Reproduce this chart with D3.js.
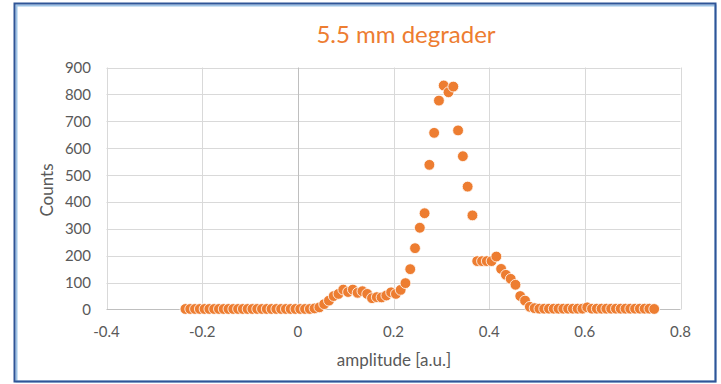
<!DOCTYPE html>
<html>
<head>
<meta charset="utf-8">
<style>
  body { margin: 0; background: #fff; }
  svg text { font-family: Lato, "Open Sans", sans-serif; }
</style>
</head>
<body>
<svg id="chart" width="721" height="384"></svg>
<script src="https://d3js.org/d3.v7.min.js"></script>
<script>
    // amplitude bins, step 0.01 starting at -0.235
    var xStart = -0.235, xStep = 0.01;
    var counts = [
        2, 2, 2, 2, 2, 2, 2, 2, 2, 2,          // -0.235 .. -0.145
        2, 2, 2, 2, 2, 2, 2, 2, 2, 2,          // -0.135 .. -0.045
        2, 2, 2, 2, 2, 2, 2, 4, 8, 20, 33,     // -0.035 .. 0.065
        50, 58, 74, 65, 74, 62, 68, 58, 42, 46, // 0.075 .. 0.165
        45, 52, 64, 58, 73, 98, 150, 228, 304, 358,
        538, 657, 777, 833, 808, 829, 666, 570, 457, 350,
        180, 180, 180, 180, 197, 151, 129, 114, 92, 50,
        33, 10, 5, 3, 3, 3, 3, 3, 3, 3,
        3, 3, 3, 8, 3, 3, 3, 3, 3, 3,
        3, 3, 3, 3, 3, 3, 3, 2
    ];
    var xTicks = [-0.4, -0.2, 0, 0.2, 0.4, 0.6, 0.8];
    var yTicks = [0, 100, 200, 300, 400, 500, 600, 700, 800, 900];

    var points = counts.map(function (c, i) {
        return {x: xStart + i * xStep, y: c};
    });

    var svg = d3.select("#chart");

    // frame
    svg.append("rect").attr("x", 16.5).attr("y", 5.5).attr("width", 699).attr("height", 376)
        .attr("fill", "none").attr("stroke", "#9dc3e6").attr("stroke-width", 2);
    svg.append("rect").attr("x", 14.5).attr("y", 3.5).attr("width", 701).attr("height", 378)
        .attr("fill", "none").attr("stroke", "#2f5597").attr("stroke-width", 2);

    var x = d3.scaleLinear().domain([-0.4, 0.8]).range([106.5, 680.5]);
    var y = d3.scaleLinear().domain([0, 900]).range([309.5, 67.5]);

    // gridlines
    svg.append("g").selectAll("line").data(yTicks.slice(1)).enter().append("line")
        .attr("x1", x(-0.4)).attr("x2", x(0.8))
        .attr("y1", function (d) { return Math.round(y(d)) + 0.5; })
        .attr("y2", function (d) { return Math.round(y(d)) + 0.5; })
        .attr("stroke", "#d9d9d9").attr("stroke-width", 1);
    svg.append("g").selectAll("line").data(xTicks.filter(function (d) { return d !== 0; })).enter().append("line")
        .attr("x1", function (d) { return Math.round(x(d)) + 0.5; })
        .attr("x2", function (d) { return Math.round(x(d)) + 0.5; })
        .attr("y1", y(900)).attr("y2", y(0))
        .attr("stroke", "#d9d9d9").attr("stroke-width", 1);

    // axis lines
    svg.append("line").attr("x1", x(-0.4)).attr("x2", x(0.8)).attr("y1", y(0)).attr("y2", y(0))
        .attr("stroke", "#bfbfbf");
    svg.append("line").attr("x1", Math.round(x(0)) + 0.5).attr("x2", Math.round(x(0)) + 0.5)
        .attr("y1", y(900)).attr("y2", y(0)).attr("stroke", "#bfbfbf");

    // tick labels
    svg.append("g").selectAll("text").data(yTicks).enter().append("text")
        .attr("x", 91).attr("y", function (d) { return y(d) + 5.5; })
        .attr("text-anchor", "end").attr("font-size", 15).attr("fill", "#595959")
        .text(function (d) { return d; });
    svg.append("g").selectAll("text").data(xTicks).enter().append("text")
        .attr("x", function (d) { return x(d); }).attr("y", 337)
        .attr("text-anchor", "middle").attr("font-size", 15).attr("fill", "#595959")
        .text(function (d) { return d; });

    // titles
    svg.append("text").attr("x", 406).attr("y", 43).attr("text-anchor", "middle")
        .attr("font-size", 24).attr("fill", "#ed7d31").text("5.5 mm degrader");
    svg.append("text").attr("x", 394).attr("y", 366).attr("text-anchor", "middle")
        .attr("font-size", 17).attr("fill", "#595959").text("amplitude [a.u.]");
    svg.append("text").attr("transform", "translate(53,190) rotate(-90)").attr("text-anchor", "middle")
        .attr("font-size", 17).attr("fill", "#595959").text("Counts");

    // markers
    svg.append("g").selectAll("circle").data(points).enter().append("circle")
        .attr("cx", function (d) { return x(d.x); })
        .attr("cy", function (d) { return y(d.y); })
        .attr("r", 5.4)
        .attr("fill", "#ed7d31").attr("stroke", "#fff").attr("stroke-width", 0.8);
</script>
</body>
</html>
